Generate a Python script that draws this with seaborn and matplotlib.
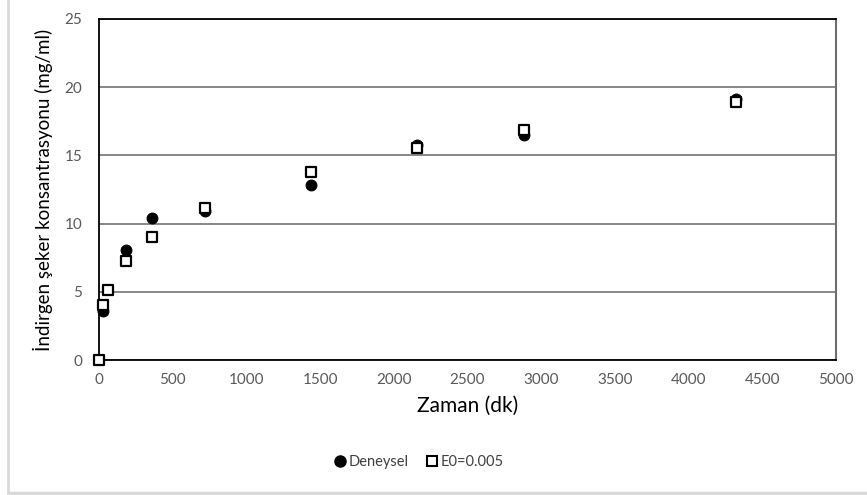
import matplotlib
matplotlib.use("Agg")
import matplotlib.pyplot as plt
from matplotlib.lines import Line2D
import seaborn as sns
import pandas as pd

# Measured sugar concentration and model (E0=0.005) over time
t_exp = [30, 180, 360, 720, 1440, 2160, 2880, 4320]
c_exp = [3.6, 8.05, 10.4, 10.95, 12.85, 15.75, 16.5, 19.1]

t_model = [0, 30, 60, 180, 360, 720, 1440, 2160, 2880, 4320]
c_model = [0.0, 4.05, 5.1, 7.25, 9.0, 11.15, 13.8, 15.55, 16.85, 18.9]

x_ticks = [0, 500, 1000, 1500, 2000, 2500, 3000, 3500, 4000, 4500, 5000]
y_ticks = [0, 5, 10, 15, 20, 25]

label_exp = "Deneysel"
label_model = "E0=0.005"

sns.set_theme(style="white")
plt.rcParams["font.family"] = ["Lato", "DejaVu Sans"]

df_exp = pd.DataFrame({"t": t_exp, "c": c_exp})
df_model = pd.DataFrame({"t": t_model, "c": c_model})

fig = plt.figure(figsize=(8.67, 4.95), dpi=100)
ax = fig.add_axes([99 / 867, 1 - 360 / 495, (836 - 99) / 867, (360 - 19) / 495])

sns.scatterplot(data=df_exp, x="t", y="c", ax=ax, marker="o", s=60,
                color="black", edgecolor="black", linewidth=0.8, zorder=3,
                clip_on=False)
sns.scatterplot(data=df_model, x="t", y="c", ax=ax, marker="s", s=52,
                facecolor="white", edgecolor="black", linewidth=1.6, zorder=4,
                clip_on=False)

ax.set_xlim(0, 5000)
ax.set_ylim(0, 25)
ax.set_xticks(x_ticks)
ax.set_yticks(y_ticks)
ax.yaxis.grid(True, color="#878787", linewidth=1.4)
ax.xaxis.grid(False)
ax.set_axisbelow(True)
ax.tick_params(axis="both", length=0, labelsize=11, labelcolor="#595959")
ax.tick_params(axis="y", pad=12)
ax.tick_params(axis="x", pad=9)

for side in ["left", "bottom", "top"]:
    ax.spines[side].set_color("black")
    ax.spines[side].set_linewidth(1.3)
ax.spines["right"].set_color("#6e6e6e")
ax.spines["right"].set_linewidth(1.5)

ax.set_xlabel("Zaman (dk)", fontsize=15, color="black", labelpad=7)
ax.set_ylabel("İndirgen şeker konsantrasyonu (mg/ml)", fontsize=13.5,
              color="black", labelpad=8)

handles = [
    Line2D([], [], marker="o", linestyle="none", markersize=8,
           markerfacecolor="black", markeredgecolor="black"),
    Line2D([], [], marker="s", linestyle="none", markersize=7.5,
           markerfacecolor="white", markeredgecolor="black", markeredgewidth=1.5),
]
fig.legend(handles, [label_exp, label_model], loc="center",
           bbox_to_anchor=(0.482, 0.066), ncol=2, frameon=False,
           fontsize=10.5, handletextpad=0.1, columnspacing=1.1,
           handlelength=1.0, labelcolor="#404040")

# outer chart border (left and bottom edges visible)
fig.add_artist(Line2D([7.5 / 867, 7.5 / 867], [2 / 495, 1.0],
                      transform=fig.transFigure, color="#d9d9d9", linewidth=2))
fig.add_artist(Line2D([7.5 / 867, 1.0], [2 / 495, 2 / 495],
                      transform=fig.transFigure, color="#d9d9d9", linewidth=2.5))

fig.savefig("out.png", dpi=100)
